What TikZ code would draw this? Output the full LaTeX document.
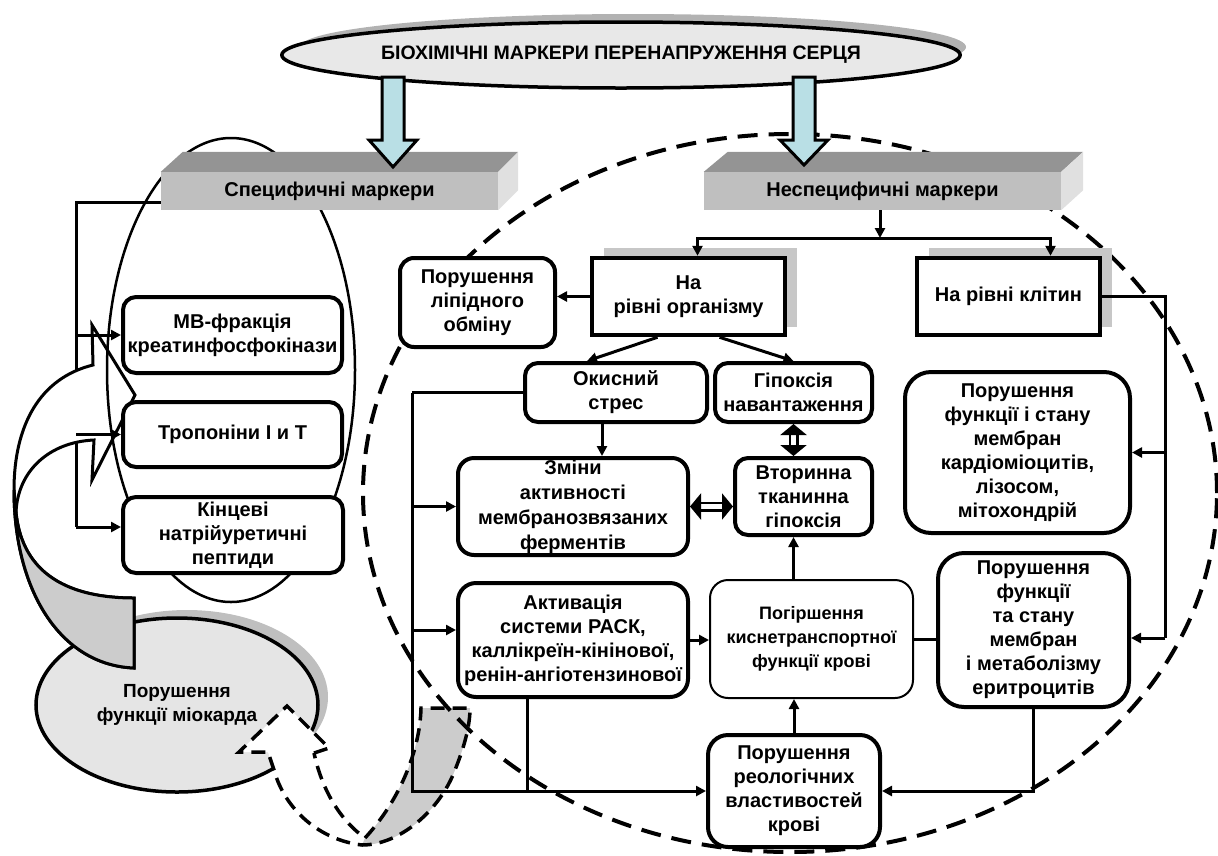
\documentclass[tikz,border=0pt]{standalone}
\usepackage{fontspec}
\setmainfont{Liberation Sans}
\usetikzlibrary{arrows.meta,shapes.geometric}
\definecolor{arrowblue}{HTML}{B9DFE5}
\begin{document}
\begin{tikzpicture}[x=1pt,y=-1pt,
    txt/.style={font=\bfseries\fontsize{20}{24}\selectfont},
    rbox/.style={draw, line width=4pt, fill=white, rounded corners=#1, align=center, inner sep=0pt, txt},
    rbox/.default=13pt,
    sbox/.style={draw, line width=4.5pt, fill=white, align=center, inner sep=0pt, txt},
    bar/.style={fill=black!25, inner sep=0pt, txt},
    conn/.style={line width=3pt, -{Triangle[length=10pt,width=10pt]}},
    link/.style={line width=3pt},
    dbl/.style={line width=2.5pt, double=white, double distance=5pt,
        {Triangle[length=11pt,width=26pt]}-{Triangle[length=11pt,width=26pt]}},
    shadowbox/.style={fill=black!22},
    blockarrow/.style={draw, line width=3pt, fill=arrowblue, line join=miter},
    dashline/.style={line width=4pt, dash pattern=on 20pt off 11pt}
]
    \useasboundingbox (0,0) rectangle (1218,855);

    % Coordonnées
    \coordinate (sT) at (161,202);
    \coordinate (sL) at (76,202);
    \coordinate (sB) at (76,527);

    % Ellipse "Порушення функції міокарда"
    \fill[black!25] (187,697) ellipse [x radius=141pt, y radius=87pt];
    \node[ellipse, draw, line width=3.5pt, fill=black!10, minimum width=282pt, minimum height=174pt,
        inner sep=0pt, align=center, font=\bfseries\fontsize{19}{24}\selectfont] (myoc) at (177,705)
        {Порушення\\функції міокарда};

    % Tronc gauche
    \draw[link] (sT) -- (sL) -- (sB);

    % Flèche courbe pleine
    \filldraw[fill=white, line width=3pt, line join=miter] (92,325) -- (135,395) -- (92,480) -- (94,440)
        .. controls (50,442) and (18,470) .. (16,512)
        .. controls (22,575) and (70,598) .. (134,598) -- (134,668)
        .. controls (60,665) and (14,590) .. (14,490)
        .. controls (14,425) and (40,378) .. (93,365) -- cycle;
    \filldraw[fill=black!20, line width=3pt] (16,512) .. controls (22,575) and (70,598) .. (134,598)
        -- (134,668) .. controls (60,665) and (14,590) .. (14,490) -- cycle;

    % Ellipse des marqueurs spécifiques
    \draw[line width=2.5pt] (231,370) ellipse [x radius=124pt, y radius=232pt];

    % Flèche courbe en tirets
    \fill[white] (314,753) -- (329,748) -- (287,706) -- (239,752) -- (268,752) -- (274,770)
        .. controls (285,810) and (320,840) .. (362,845)
        .. controls (400,845) and (440,810) .. (455,770)
        .. controls (465,745) and (470,725) .. (470,708) -- (421,708)
        .. controls (420,750) and (400,800) .. (365,838)
        .. controls (340,820) and (322,790) .. (314,753) -- cycle;
    \fill[black!20] (470,708) .. controls (470,725) and (465,745) .. (455,770)
        .. controls (440,810) and (400,845) .. (362,845) -- (365,838)
        .. controls (400,800) and (420,750) .. (421,708) -- cycle;
    \draw[line width=3.5pt, dash pattern=on 14pt off 8pt] (314,753) -- (329,748) -- (287,706) -- (239,752)
        -- (268,752) -- (274,770)
        .. controls (285,810) and (320,840) .. (362,845)
        .. controls (400,845) and (440,810) .. (455,770)
        .. controls (465,745) and (470,725) .. (470,708) -- (421,708)
        .. controls (420,750) and (400,800) .. (365,838)
        .. controls (340,820) and (322,790) .. (314,753);

    % Grande ellipse en tirets (marqueurs non spécifiques)
    \draw[dashline] (790,493) ellipse [x radius=427pt, y radius=359pt];

    % Barres
    \node[bar, minimum width=337pt, minimum height=38pt] (spec) at (329.5,191) {Специфичні маркери};
    \fill[black!42] (spec.north west) -- ([shift={(22pt,20pt)}]spec.north west)
        -- ([shift={(20pt,20pt)}]spec.north east) -- (spec.north east) -- cycle;
    \fill[black!12] (spec.north east) -- ([shift={(20pt,20pt)}]spec.north east)
        -- ([shift={(20pt,20pt)}]spec.south east) -- (spec.south east) -- cycle;

    \node[bar, minimum width=357pt, minimum height=38pt] (nonspec) at (882.5,191) {Неспецифичні маркери};
    \fill[black!42] (nonspec.north west) -- ([shift={(24pt,20pt)}]nonspec.north west)
        -- ([shift={(22pt,20pt)}]nonspec.north east) -- (nonspec.north east) -- cycle;
    \fill[black!12] (nonspec.north east) -- ([shift={(22pt,20pt)}]nonspec.north east)
        -- ([shift={(22pt,20pt)}]nonspec.south east) -- (nonspec.south east) -- cycle;

    % Boîtes de gauche
    \node[rbox, minimum width=219pt, minimum height=76pt] (mb) at (232.5,335) {МВ-фракція\\креатинфосфокінази};
    \node[rbox, minimum width=219pt, minimum height=65pt] (tropon) at (232.5,434.5) {Тропоніни І и Т};
    \node[rbox, minimum width=220pt, minimum height=76pt] (kinc) at (233,535) {Кінцеві\\натрійуретичні\\пептиди};

    % Boîtes de droite
    \fill[shadowbox] (604,248) rectangle (797,327);
    \fill[shadowbox] (929,248) rectangle (1112,327);
    \node[sbox, minimum width=193pt, minimum height=77pt] (org) at (688.5,296.5) {На\\рівні організму};
    \node[sbox, minimum width=183pt, minimum height=77pt] (klit) at (1008.5,296.5) {На рівні клітин};
    \node[rbox=14pt, minimum width=155pt, minimum height=89pt] (lipid) at (477.5,302.5) {Порушення\\ліпідного\\обміну};
    \node[rbox, minimum width=182pt, minimum height=59pt] (okys) at (616,392.5) {Окисний\\стрес};
    \node[rbox, minimum width=157pt, minimum height=59pt] (hipox) at (793.5,392.5) {Гіпоксія\\навантаження};
    \node[rbox=16pt, minimum width=230pt, minimum height=97pt, font=\bfseries\fontsize{20}{25}\selectfont]
        (zminy) at (573,506.5)
        {Зміни\\активності\\мембранозвязаних\\ферментів};
    \node[rbox, minimum width=137pt, minimum height=77pt] (vtor) at (803.5,496.5) {Вторинна\\тканинна\\гіпоксія};
    \node[rbox=18pt, minimum width=230pt, minimum height=114pt] (activ) at (573,640)
        {Активація\\системи РАСК,\\каллікреїн-кінінової,\\ренін-ангіотензинової};
    \node[rbox=18pt, line width=2pt, minimum width=203pt, minimum height=118pt,
        font=\bfseries\fontsize{18}{24}\selectfont] (pohir) at (811.5,639)
        {Погіршення\\киснетранспортної\\функції крові};
    \node[rbox=26pt, minimum width=225pt, minimum height=161pt] (membr) at (1017.5,452.5)
        {Порушення\\функції і стану\\мембран\\кардіоміоцитів,\\лізосом,\\мітохондрій};
    \node[rbox=26pt, minimum width=191pt, minimum height=154pt] (eryth) at (1033.5,630)
        {Порушення\\функції\\та стану\\мембран\\і метаболізму\\еритроцитів};
    \node[rbox=20pt, minimum width=172pt, minimum height=112pt] (reol) at (794,791)
        {Порушення\\реологічних\\властивостей\\крові};

    % Liaisons à gauche
    \coordinate (kw) at ([yshift=8pt]kinc.west);
    \draw[conn] (sL |- mb.west) -- (mb.west);
    \draw[conn] (sL |- tropon.west) -- (tropon.west);
    \draw[conn] (sL |- kw) -- (kw);

    % Liaisons à droite
    \coordinate (fork) at (880,238);
    \draw[conn] (nonspec.south -| fork) -- (fork);
    \draw[conn] (fork) -| ([xshift=9pt]org.north);
    \draw[conn] (fork) -| ([xshift=42pt]klit.north);
    \draw[conn] (org.west) -- (org.west -| lipid.east);
    \draw[conn] ([xshift=-31pt]org.south) -- ([xshift=-29pt]okys.north);
    \draw[conn] ([xshift=31pt]org.south) -- (hipox.north);
    \draw[conn] ([xshift=-14pt]okys.south) -- ([xshift=-14pt]okys.south |- zminy.north);
    \draw[dbl] (hipox.south) -- (hipox.south |- vtor.north);
    \draw[dbl] (zminy.east) -- (zminy.east -| vtor.west);
    \draw[conn] ([xshift=-18pt]pohir.north) -- ([xshift=-18pt]pohir.north |- vtor.south);
    \draw[conn] (reol.north) -- (reol.north |- pohir.south);
    \draw[link] (pohir.east) -- (pohir.east -| eryth.west);
    \draw[conn] (activ.east) -- (activ.east -| pohir.west);
    \draw[conn] (eryth.south) |- (reol.east);

    \coordinate (lT) at (412,392.5);
    \coordinate (aw) at ([yshift=10pt]activ.west);
    \draw[link] (okys.west) -- (lT);
    \draw[conn] (lT) |- (reol.west);
    \draw[conn] (lT |- zminy.west) -- (zminy.west);
    \draw[conn] (lT |- aw) -- (aw);
    \draw[link] ([xshift=-46pt]activ.south) -- ([xshift=-46pt]activ.south |- reol.west);

    \coordinate (rT) at (1165,296.5);
    \coordinate (ew) at ([yshift=-8pt]eryth.east);
    \draw[link] (klit.east) -- (rT) -- (rT |- ew);
    \draw[conn] (rT |- membr.east) -- (membr.east);
    \draw[conn] (rT |- ew) -- (ew);

    % Titre et flèches larges
    \fill[black!30] (633,47) ellipse [x radius=333pt, y radius=33pt];
    \node[ellipse, draw, line width=3.5pt, fill=black!9, minimum width=666pt, minimum height=66pt,
        inner sep=0pt, font=\bfseries\fontsize{19.5}{22}\selectfont] (title) at (621,55)
        {БІОХІМІЧНІ МАРКЕРИ ПЕРЕНАПРУЖЕННЯ СЕРЦЯ};
    \filldraw[blockarrow] (382,77) -- (404,77) -- (404,140) -- (417,140) -- (393,167) -- (369,140) -- (382,140) -- cycle;
    \filldraw[blockarrow] (793,77) -- (815,77) -- (815,140) -- (828,140) -- (804,165) -- (780,140) -- (793,140) -- cycle;
\end{tikzpicture}
\end{document}
